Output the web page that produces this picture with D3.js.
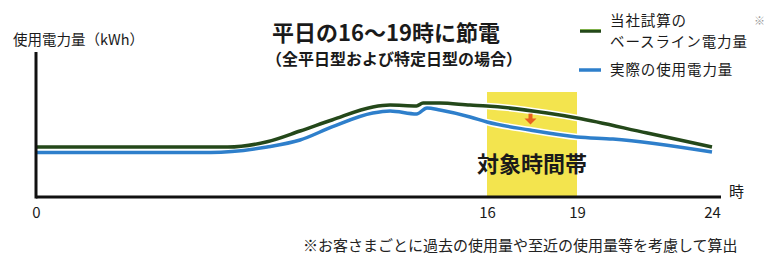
<!DOCTYPE html>
<html><head><meta charset="utf-8">
<script src="https://cdn.jsdelivr.net/npm/d3@7"></script>
<style>
html,body{margin:0;padding:0;background:#fff;}
svg{display:block;font-family:"Noto Sans CJK JP","Noto Sans",sans-serif;}
</style></head>
<body><svg id="c" width="771" height="260"></svg>
<script>
// Data (hours -> relative kWh)
const baselineHours = [0, 6.8, 8.2, 9.37, 10.5, 11.95, 12.56, 13.5, 13.73, 14.33, 15.4, 16, 18, 19, 21.6, 24];
const baselineValues = [34.5, 34.5, 38.1, 45.5, 53.1, 62.1, 63.4, 62.8, 64.8, 64.8, 63.4, 62.8, 57.9, 54.5, 44.1, 34.5];
const actualHours = [0, 6.2, 8.2, 9.37, 10.5, 11.95, 12.56, 13.5, 13.87, 14.33, 15.4, 16, 17.43, 19, 20.33, 24];
const actualValues = [30.7, 30.7, 34.5, 39.3, 48.3, 57.9, 59.3, 57.2, 61.4, 60, 55.2, 51.7, 46.2, 41.4, 40, 31];
const tickHours = [0, 16, 19, 24];
const tickLabels = ["0", "16", "19", "24"];
const targetPeriod = [16, 19];
const arrowHour = 17.45;
const arrowValues = [57.5, 50];

const svg = d3.select("#c");
const x = d3.scaleLinear().domain([0, 16, 19, 24]).range([36, 487, 577, 712]);
const y = d3.scaleLinear().domain([0, 100]).range([197, 52]);

// target band
svg.append("rect")
  .attr("x", x(targetPeriod[0])).attr("y", 92)
  .attr("width", x(targetPeriod[1]) - x(targetPeriod[0]))
  .attr("height", y(0) - 92)
  .attr("fill", "#f3e44e");

svg.append("text").attr("x", (x(16) + x(19)) / 2).attr("y", 172)
  .attr("text-anchor", "middle").attr("font-size", 22).attr("font-weight", 700)
  .attr("fill", "#1a1a1a").text("対象時間帯");

// lines
const line = d3.line().x(d => x(d[0])).y(d => y(d[1])).curve(d3.curveMonotoneX);
const series = [
  {h: baselineHours, v: baselineValues, c: "#24481a"},
  {h: actualHours, v: actualValues, c: "#2e7fcb"}
];
series.forEach(s => {
  const pts = s.h.map((h, i) => [h, s.v[i]]);
  svg.append("path").attr("d", line(pts)).attr("fill", "none")
    .attr("stroke", "#fff").attr("stroke-width", 6.5).attr("stroke-linejoin", "round");
});
series.forEach(s => {
  const pts = s.h.map((h, i) => [h, s.v[i]]);
  svg.append("path").attr("d", line(pts)).attr("fill", "none")
    .attr("stroke", s.c).attr("stroke-width", 3.5).attr("stroke-linejoin", "round");
});

// arrow
const ax = x(arrowHour), ay0 = y(arrowValues[0]), ay1 = y(arrowValues[1]);
svg.append("rect").attr("x", ax - 2).attr("y", ay0).attr("width", 4).attr("height", ay1 - ay0 - 5)
  .attr("fill", "#e8611e");
svg.append("path").attr("d", `M${ax-6},${ay1-6}L${ax+6},${ay1-6}L${ax},${ay1}Z`).attr("fill", "#e8611e");

// axes
svg.append("line").attr("x1", 36).attr("x2", 36).attr("y1", 52).attr("y2", y(0) + 1.5)
  .attr("stroke", "#111").attr("stroke-width", 3);
svg.append("line").attr("x1", 36).attr("x2", 721).attr("y1", y(0)).attr("y2", y(0))
  .attr("stroke", "#111").attr("stroke-width", 3);
const xAxis = d3.axisBottom(x).tickValues(tickHours).tickFormat((d, i) => tickLabels[i]).tickSize(0).tickPadding(10);
const gx = svg.append("g").attr("transform", `translate(0,${y(0)})`).call(xAxis);
gx.select(".domain").remove();
gx.selectAll("text").attr("font-size", 15).attr("fill", "#1a1a1a")
  .attr("font-family", "'Noto Sans CJK JP','Noto Sans',sans-serif");
svg.append("text").attr("x", 729).attr("y", 197).attr("font-size", 15).attr("fill", "#1a1a1a").text("時");

// y label
svg.append("text").attr("x", 13).attr("y", 45).attr("font-size", 14.5).attr("fill", "#1a1a1a").text("使用電力量（kWh）");

// titles
svg.append("text").attr("x", 386).attr("y", 41).attr("text-anchor", "middle")
  .attr("font-size", 22).attr("font-weight", 700).attr("fill", "#1a1a1a").text("平日の16〜19時に節電");
svg.append("text").attr("x", 394).attr("y", 65).attr("text-anchor", "middle")
  .attr("font-size", 16).attr("font-weight", 700).attr("fill", "#1a1a1a").text("（全平日型および特定日型の場合）");

// legend
svg.append("line").attr("x1", 580).attr("x2", 601).attr("y1", 31).attr("y2", 31)
  .attr("stroke", "#24481a").attr("stroke-width", 3.5);
svg.append("line").attr("x1", 580).attr("x2", 601).attr("y1", 29.5).attr("y2", 29.5)
  .attr("stroke", "#7fb04a").attr("stroke-width", 1);
svg.append("line").attr("x1", 579).attr("x2", 601).attr("y1", 70).attr("y2", 70)
  .attr("stroke", "#2e7fcb").attr("stroke-width", 3.5);
const lg = svg.append("g").attr("font-size", 14.5).attr("fill", "#1a1a1a").attr("letter-spacing", 0.9);
lg.append("text").attr("x", 610).attr("y", 26).text("当社試算の");
lg.append("text").attr("x", 610).attr("y", 47).text("ベースライン電力量");
lg.append("text").attr("x", 610).attr("y", 75).text("実際の使用電力量");
svg.append("text").attr("x", 754).attr("y", 25).attr("font-size", 11).attr("fill", "#999").text("※");

// footnote
svg.append("text").attr("x", 303).attr("y", 251).attr("font-size", 15).attr("fill", "#222")
  .text("※お客さまごとに過去の使用量や至近の使用量等を考慮して算出");
</script></body></html>
